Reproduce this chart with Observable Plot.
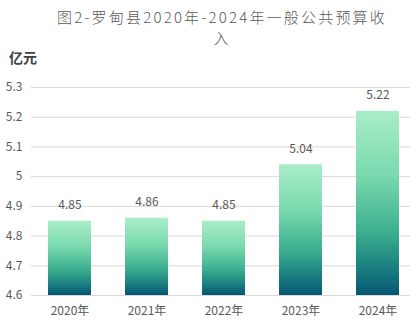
<!DOCTYPE html>
<html><head><meta charset="utf-8">
<script src="https://cdn.jsdelivr.net/npm/d3@7"></script>
<script src="https://cdn.jsdelivr.net/npm/@observablehq/plot@0.6"></script>
<style>
body{margin:0;background:#fff;}
#wrap{position:relative;width:410px;height:328px;overflow:hidden;font-family:"Noto Sans CJK SC","Noto Sans",sans-serif;}
#title{position:absolute;left:40px;top:6px;width:364px;text-align:center;font-size:15px;line-height:21px;color:#595959;font-weight:300;letter-spacing:2.2px;}
#unit{position:absolute;left:9px;top:47px;font-size:14px;font-weight:bold;color:#404040;}
#chart{position:absolute;left:0;top:0;}
</style></head>
<body><div id="wrap"><div id="chart"></div><div id="title">图2-罗甸县2020年-2024年一般公共预算收<br>入</div><div id="unit">亿元</div></div>
<script>
const categories = ["2020年","2021年","2022年","2023年","2024年"];
const values = [4.85, 4.86, 4.85, 5.04, 5.22];
const yTicks = [4.6, 4.7, 4.8, 4.9, 5.0, 5.1, 5.2, 5.3];
const baseValue = 4.6;

const data = categories.map((c, i) => ({cat: c, v: values[i]}));

const plot = Plot.plot({
  width: 410, height: 328,
  marginTop: 87, marginBottom: 33, marginLeft: 31, marginRight: 0,
  style: {fontFamily: '"Noto Sans CJK SC","Noto Sans",sans-serif', fontSize: "12px", color: "#595959", background: "transparent"},
  x: {domain: categories, range: [31, 416], paddingInner: 0.44, paddingOuter: 0.22, label: null},
  y: {domain: [4.6, 5.3], label: null},
  marks: [
    Plot.ruleY(yTicks, {stroke: "#d9d9d9", strokeWidth: 1}),
    Plot.barY(data, {x: "cat", y1: baseValue, y2: "v", fill: "url(#barGrad)"}),
    Plot.text(data, {x: "cat", y: "v", text: d => d.v.toFixed(2), dy: -16, fill: "#595959", fontSize: 12}),
    Plot.axisX({tickSize: 0, tickPadding: 11, fill: "#595959", fontSize: 12}),
    Plot.axisY(yTicks, {tickSize: 0, tickPadding: 9, tickFormat: d => String(+d.toFixed(1)), fill: "#595959", fontSize: 12})
  ]
});

const ns = "http://www.w3.org/2000/svg";
const defs = document.createElementNS(ns, "defs");
defs.innerHTML = `<linearGradient id="barGrad" x1="0" y1="0" x2="0" y2="1">
<stop offset="0%" stop-color="#a9edc9"/>
<stop offset="35%" stop-color="#7ad9ae"/>
<stop offset="65%" stop-color="#3db08f"/>
<stop offset="85%" stop-color="#1a8080"/>
<stop offset="100%" stop-color="#065673"/>
</linearGradient>`;
plot.insertBefore(defs, plot.firstChild);
document.getElementById("chart").appendChild(plot);
</script></body></html>
